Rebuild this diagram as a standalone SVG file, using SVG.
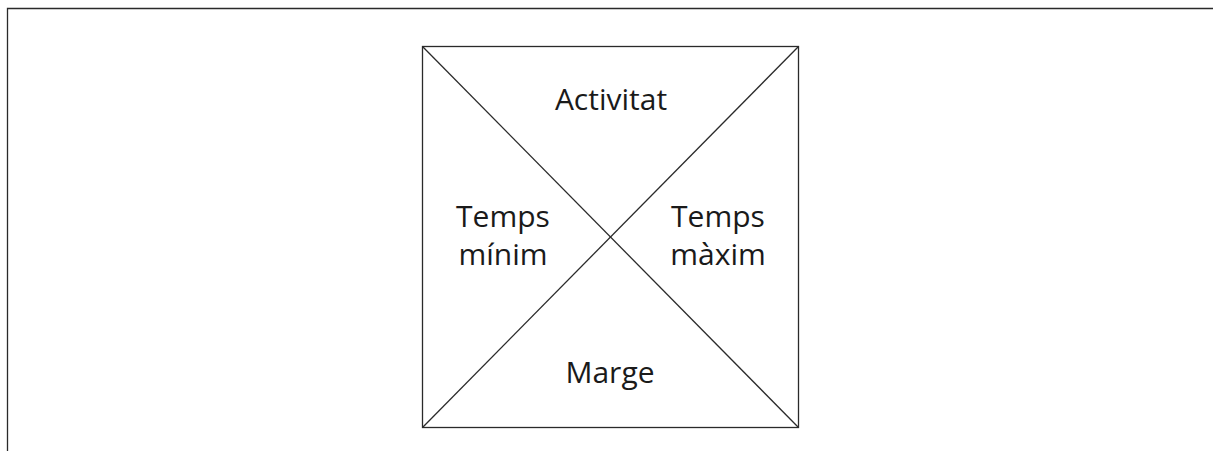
<svg xmlns="http://www.w3.org/2000/svg" width="1213" height="451" viewBox="0 0 1213 451">
<style>
.ln{stroke:#2a2a2a;stroke-width:1.3;fill:none}
.t{font-family:"Open Sans","Liberation Sans",sans-serif;font-size:30px;fill:#1a1a1a;text-anchor:middle}
</style>
<rect width="1213" height="451" fill="#fff"/>
<g id="frame"><path class="ln" d="M7.5,451 V8.5 H1213"/></g>
<g id="box"><rect class="ln" x="422.5" y="46.5" width="376" height="381"/></g>
<g id="connectors">
<line class="ln" x1="422.5" y1="46.5" x2="798.5" y2="427.5"/>
<line class="ln" x1="798.5" y1="46.5" x2="422.5" y2="427.5"/>
</g>
<g id="activitat"><text class="t" x="611" y="110">Activitat</text></g>
<g id="temps-minim"><text class="t" x="503" y="227">Temps</text><text class="t" x="503" y="265">mínim</text></g>
<g id="temps-maxim"><text class="t" x="718" y="227">Temps</text><text class="t" x="718" y="265">màxim</text></g>
<g id="marge"><text class="t" x="610" y="383">Marge</text></g>
</svg>
